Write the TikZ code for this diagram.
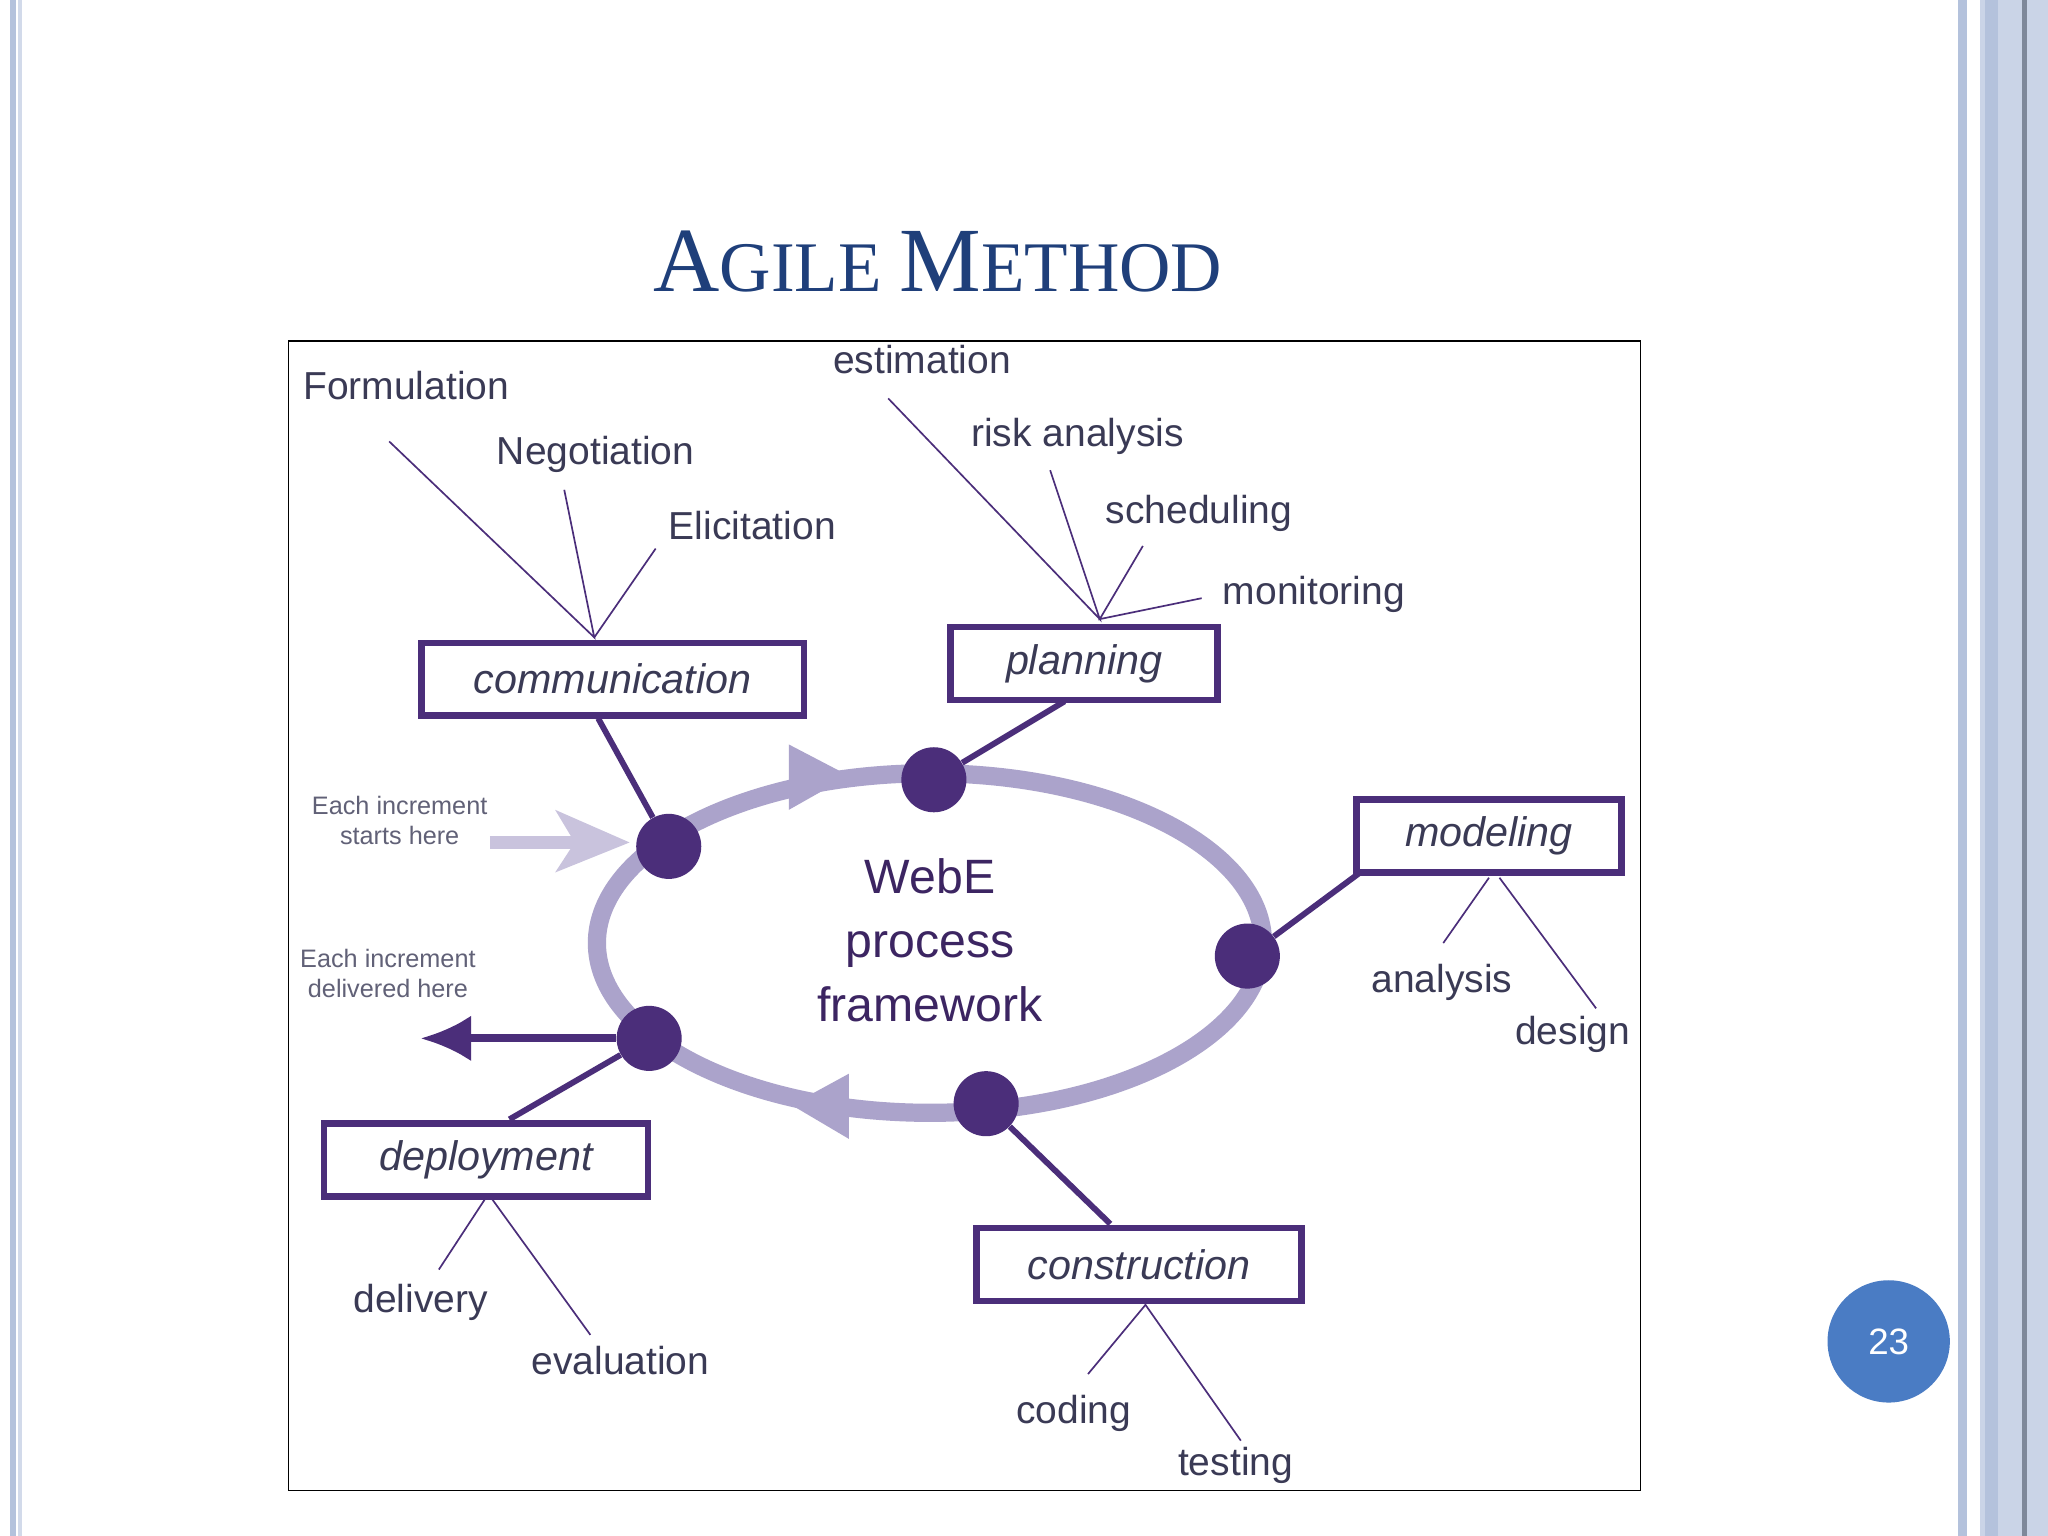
\documentclass[tikz,border=0pt]{standalone}
\usepackage{fontspec}
\setmainfont{Liberation Sans}
\newfontfamily\titlefont{Liberation Serif}
\usetikzlibrary{arrows.meta}
\def\pxu{0.567pt}
\definecolor{dpurple}{HTML}{4B2E7A}
\definecolor{lav}{HTML}{ABA3CB}
\definecolor{lavl}{HTML}{C9C3DD}
\definecolor{ttl}{HTML}{1F3F7A}
\definecolor{txt}{HTML}{3A3A55}
\definecolor{bord}{HTML}{B4C2DC}
\definecolor{pgc}{HTML}{4A7CC4}
\tikzset{
 box/.style={draw=dpurple,line width=5*\pxu,minimum height=56*\pxu,inner sep=0pt,font=\fontsize{18}{20}\selectfont\itshape,text=txt},
 dot/.style={circle,fill=dpurple,minimum size=50*\pxu,inner sep=0pt},
 lbl/.style={font=\fontsize{17}{19}\selectfont,text=txt},
 small/.style={font=\fontsize{11}{13}\selectfont,text=txt!80,align=center},
 thin/.style={draw=dpurple,line width=1.3*\pxu},
 stem/.style={draw=dpurple,line width=4.5*\pxu},
}
\begin{document}
\begin{tikzpicture}[x=0.02cm,y=-0.02cm]
\useasboundingbox (0,0) rectangle (1568,1176);
\fill[white] (0,0) rectangle (1568,1176);
% borders
\fill[bord] (8,0) rectangle (12,1176);
\fill[bord!60] (14,0) rectangle (17,1176);
\fill[bord] (1499,0) rectangle (1506,1176);
\fill[bord!70] (1516,0) rectangle (1568,1176);
\fill[bord] (1520,0) rectangle (1530,1176);
\fill[bord!70!black] (1548,0) rectangle (1552,1176);
% title
\node[text=ttl,font=\titlefont] (title) at (718,200) {\fontsize{40}{44}\selectfont A\fontsize{31}{34}\selectfont GILE \fontsize{40}{44}\selectfont M\fontsize{31}{34}\selectfont ETHOD};
% frame
\draw[black,line width=1.2*\pxu] (221,261) rectangle (1256,1141);
% ellipse
\draw[lav,line width=14*\pxu] (712,722) ellipse (255 and 130);
\fill[lav] (604,570) -- (650,594) -- (604,620) -- cycle;
\fill[lav] (650,822) -- (606,846) -- (650,872) -- cycle;
% start arrow
\draw[lavl,line width=10*\pxu] (375,645) -- (440,645);
\fill[lavl] (425,620) -- (482,645) -- (425,668) -- (440,645) -- cycle;
\node[small] (start) at (306,628) {Each increment\\starts here};
% dots
\node[dot] (d1) at (512,648) {};
\node[dot] (d2) at (715,597) {};
\node[dot] (d3) at (955,732) {};
\node[dot] (d4) at (755,845) {};
\node[dot] (d5) at (497,795) {};
% delivered arrow
\coordinate (dl) at (322,795);
\draw[dpurple,line width=3.4pt,-{Latex[length=22pt,width=20pt]}] (d5) -- (dl);
\node[small] (deliv) at (297,745) {Each increment\\delivered here};
% center
\node[font=\fontsize{21}{28}\selectfont,text=dpurple!80!black,align=center] (center) at (712,720) {WebE\\process\\framework};
% boxes
\node[box,minimum width=294*\pxu] (com) at (469,520) {communication};
\node[box,minimum width=205*\pxu] (pla) at (830,508) {planning};
\node[box,minimum width=204*\pxu] (mod) at (1140,640) {modeling};
\node[box,minimum width=250*\pxu] (con) at (872,968) {construction};
\node[box,minimum width=249*\pxu] (dep) at (372,888) {deployment};
% stems
\draw[stem] (d1) -- (458,550);
\draw[stem] (d2) -- (815,537);
\draw[stem] (d3) -- (1040,669);
\draw[stem] (d4) -- (850,937);
\draw[stem] (d5) -- (390,857);
% communication
\coordinate (ca) at (455,488);
\coordinate (c1) at (298,338); \coordinate (c2) at (432,375); \coordinate (c3) at (502,420);
\draw[thin] (c1) -- (ca) -- (c2); \draw[thin] (ca) -- (c3);
\node[lbl] (f) at (311,295) {Formulation};
\node[lbl] (n) at (456,348) {Negotiation};
\node[lbl] (e) at (576,402) {Elicitation};
% planning
\coordinate (pa) at (842,474);
\coordinate (p1) at (680,305); \coordinate (p2) at (804,360); \coordinate (p3) at (875,418); \coordinate (p4) at (920,458);
\draw[thin] (p1) -- (pa) -- (p2); \draw[thin] (p3) -- (pa) -- (p4);
\node[lbl] (es) at (706,275) {estimation};
\node[lbl] (ri) at (825,334) {risk analysis};
\node[lbl] (sc) at (918,393) {scheduling};
\node[lbl] (mo) at (1006,455) {monitoring};
% modeling
\coordinate (ma) at (1140,672); \coordinate (mb) at (1148,672);
\coordinate (m1) at (1105,722); \coordinate (m2) at (1222,772);
\draw[thin] (ma) -- (m1); \draw[thin] (mb) -- (m2);
\node[lbl] (an) at (1104,752) {analysis};
\node[lbl] (de) at (1204,792) {design};
% construction
\coordinate (ka) at (877,999);
\coordinate (k1) at (833,1052); \coordinate (k2) at (950,1103);
\draw[thin] (k1) -- (ka) -- (k2);
\node[lbl] (co) at (822,1082) {coding};
\node[lbl] (te) at (946,1122) {testing};
% deployment
\coordinate (da) at (372,917); \coordinate (db) at (376,917);
\coordinate (q1) at (336,972); \coordinate (q2) at (452,1022);
\draw[thin] (da) -- (q1); \draw[thin] (db) -- (q2);
\node[lbl] (dv) at (322,997) {delivery};
\node[lbl] (ev) at (475,1042) {evaluation};
% page number
\node[circle,fill=pgc,minimum size=94*\pxu,inner sep=0pt,text=white,font=\fontsize{16}{18}\selectfont] (pg) at (1446,1027) {23};
\end{tikzpicture}
\end{document}
